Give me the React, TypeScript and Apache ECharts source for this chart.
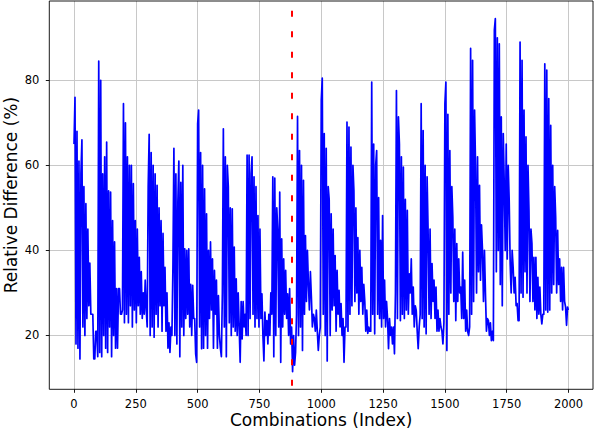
import React, { useEffect, useRef } from "react";
import * as echarts from "echarts";

// Sampled every 4 combinations; each block covers 100 combinations.
const sampleStep = 4;
const blockSize = 100;
const block00 = [65, 76, 18, 68, 17, 61, 14.5, 58, 66, 22, 55, 20, 51, 24, 45, 27, 37, 25, 25, 25, 14.5, 14.5, 21, 21, 15];
const block01 = [84.5, 16, 80, 15, 58, 20, 62, 17, 65.5, 16, 54, 22, 53.7, 15, 47, 20, 42, 17, 31, 17, 31, 31, 25, 25, 26];
const block02 = [74.5, 23, 70, 25, 62, 23, 60, 27, 60, 22, 55.7, 26, 47, 23, 45, 27, 38.4, 25, 35, 24, 30, 25, 33, 26, 22];
const block03 = [55, 67.3, 20, 63, 22, 60, 19.6, 58, 25, 55.3, 22, 50, 27, 47, 21, 44, 27, 36, 21, 30, 17, 23, 16, 22, 20];
const block04 = [36, 64, 20, 58, 18, 51.4, 61, 15, 56, 22, 60, 20, 40.4, 24, 40, 25, 40.4, 22, 32, 20, 31.8, 24, 24, 15.7, 13.7];
const block05 = [69.8, 73, 22, 63, 16.9, 60, 17, 54.5, 20, 48.6, 17, 40, 24, 42, 26, 38, 17, 35.3, 25, 33, 17, 29.4, 20, 17, 15];
const block06 = [30, 68.6, 22, 62, 15, 60, 55, 23, 50, 20, 49.8, 22, 40.8, 21, 33.3, 20, 30, 22, 13.7, 28, 19.2, 28, 22, 25, 20];
const block07 = [62.4, 20, 62.4, 24, 58, 62, 25, 57.3, 22, 55, 24, 48.2, 22, 45, 24, 29.8, 20, 14, 25.5, 20, 23.5, 18, 25, 20, 30];
const block08 = [25, 57.3, 15, 57, 20, 50, 45, 22, 53.7, 13.7, 42.7, 22, 38, 25, 35.3, 24, 29.8, 20, 31, 18, 22, 11.5, 20, 13, 16];
const block09 = [25, 71.5, 20, 63.5, 22, 60, 16.5, 56.5, 25, 43.5, 28, 40, 32.2, 26, 35, 29, 22, 25, 24, 21, 26, 21, 16.5, 20, 22];
const block10 = [75.3, 80.5, 25, 67.5, 20, 64, 14, 55, 52, 20, 48.6, 26, 45, 27, 38.8, 21, 35.3, 25, 30.6, 22, 27.5, 20, 24, 13.7, 22];
const block11 = [22, 70.2, 21, 69, 25, 64.3, 27, 60, 54, 28, 50, 30, 43, 25, 40, 28, 36, 25, 32, 28, 21, 26, 20.5, 22, 21];
const block12 = [21, 79.6, 25, 65, 20.4, 60, 63.5, 25, 52.4, 24, 42.4, 22, 48.2, 24, 33, 22, 28, 24, 16.9, 24, 20, 22, 18, 22, 15.7];
const block13 = [30, 77.6, 24, 71.4, 65, 23.5, 62, 25, 59.6, 24, 52, 26, 49.4, 25, 34.5, 30, 38, 25, 31.4, 22, 27, 25.9, 21, 16.9, 22];
const block14 = [25, 74.5, 24, 68.2, 22, 60, 20.4, 57.3, 44.7, 25, 45, 24, 36.9, 28, 33, 24, 31.4, 21, 26, 21, 24, 22, 21, 18, 23];
const block15 = [74.5, 79.6, 16.5, 72, 25, 63.5, 30, 55, 47.8, 28, 45, 23.5, 41.6, 28, 38, 30, 31.4, 24, 39.6, 24, 33, 21, 26, 21, 20];
const block16 = [22, 87.5, 25, 84.7, 28, 73, 59.6, 30, 62, 35, 55.3, 33, 46, 40, 28, 40, 29.8, 21, 24, 23.5, 20, 23, 18.8, 21, 18.8];
const block17 = [91.8, 94.5, 35, 90, 40, 88.6, 32, 71.4, 27, 67.5, 55.7, 40, 65, 38, 60, 51.8, 36.9, 30, 40, 36, 30, 33.7, 27, 27.5, 23.5];
const block18 = [23.5, 89, 30, 84.7, 29, 73, 35, 66.7, 30, 60, 49.4, 28, 45, 41.6, 28, 38.4, 26, 38.4, 24, 33.7, 25, 31.4, 25, 22.7, 25];
const block19 = [25, 83.9, 26, 82.4, 25.5, 75.7, 26, 69.4, 30, 60, 32, 55, 47.8, 30, 44.7, 32, 38, 28, 36, 26, 36, 28, 26.7, 22.4, 26.7];
const lastIndex = 1999;
const lastValue = 26;

const thresholdIndex = 882;

const xTickLabels = ["0", "250", "500", "750", "1000", "1250", "1500", "1750", "2000"];
const yTickLabels = ["20", "40", "60", "80"];

const xLabel = "Combinations (Index)";
const yLabel = "Relative Difference (%)";

const blocks = [
  block00, block01, block02, block03, block04, block05, block06, block07, block08, block09,
  block10, block11, block12, block13, block14, block15, block16, block17, block18, block19,
];

export default function App() {
  const ref = useRef<HTMLDivElement>(null);

  useEffect(() => {
    document.body.style.margin = "0";
    const el = ref.current!;
    const chart = echarts.init(el, null, { renderer: "svg" });

    const data: [number, number][] = [];
    blocks.forEach((blk, bi) => {
      blk.forEach((v, k) => data.push([bi * blockSize + k * sampleStep, v]));
    });
    data.push([lastIndex, lastValue]);

    const vals = data.map((d) => d[1]);
    const vMin = Math.min(...vals);
    const vMax = Math.max(...vals);
    const yMin = vMin - 0.05 * (vMax - vMin);
    const yMax = vMax + 0.05 * (vMax - vMin);
    const xMin = -0.05 * lastIndex;
    const xMax = lastIndex * 1.05;

    const W = 594;
    const H = 434;
    const gLeft = 49.3;
    const gRight = 1;
    const gTop = 1;
    const gBottom = 44.7;
    const pw = W - gLeft - gRight;
    const ph = H - gTop - gBottom;
    const xPx = (v: number) => gLeft + ((v - xMin) / (xMax - xMin)) * pw;
    const yPx = (v: number) => gTop + ((yMax - v) / (yMax - yMin)) * ph;

    const xFirst = Number(xTickLabels[0]);
    const xLast = Number(xTickLabels[xTickLabels.length - 1]);
    const xStep = Number(xTickLabels[1]) - xFirst;
    const yFirst = Number(yTickLabels[0]);
    const yLast = Number(yTickLabels[yTickLabels.length - 1]);
    const yStep = Number(yTickLabels[1]) - yFirst;

    const font = "DejaVu Sans";
    const gridColor = "#c8c8c8";
    const tickStyle = { show: true, inside: false, length: 3.5, lineStyle: { color: "#000", width: 0.9 } };
    const noBounds = { outerBoundsMode: "none", containLabel: false };

    const option: any = {
      animation: false,
      backgroundColor: "#fff",
      textStyle: { fontFamily: font },
      grid: [
        { ...noBounds, left: gLeft, right: gRight, top: gTop, bottom: gBottom, show: true, borderColor: "#000", borderWidth: 0.9, backgroundColor: "transparent", z: 3 },
        { ...noBounds, left: xPx(xFirst), right: W - xPx(xLast), top: gTop, bottom: gBottom },
        { ...noBounds, left: gLeft, right: gRight, top: yPx(yLast), bottom: H - yPx(yFirst) },
      ],
      xAxis: [
        {
          gridIndex: 0, type: "value", min: xMin, max: xMax,
          axisLine: { show: false }, axisTick: { show: false }, axisLabel: { show: false }, splitLine: { show: false },
          name: xLabel, nameLocation: "middle", nameGap: 22,
          nameTextStyle: { fontFamily: font, fontSize: 17, color: "#000" },
        },
        {
          gridIndex: 1, type: "value", min: xFirst, max: xLast, interval: xStep,
          axisLine: { show: false }, axisTick: tickStyle,
          axisLabel: {
            show: true, fontFamily: font, fontSize: 11.5, color: "#000", margin: 9,
            formatter: (v: number) => xTickLabels[Math.round((v - xFirst) / xStep)] ?? "",
          },
          splitLine: { show: true, lineStyle: { color: gridColor, width: 1 } },
        },
        { gridIndex: 2, type: "value", show: false },
      ],
      yAxis: [
        {
          gridIndex: 0, type: "value", min: yMin, max: yMax,
          axisLine: { show: false }, axisTick: { show: false }, axisLabel: { show: false }, splitLine: { show: false },
          name: yLabel, nameLocation: "middle", nameGap: 30,
          nameTextStyle: { fontFamily: font, fontSize: 17, color: "#000" },
        },
        { gridIndex: 1, type: "value", show: false },
        {
          gridIndex: 2, type: "value", min: yFirst, max: yLast, interval: yStep,
          axisLine: { show: false }, axisTick: tickStyle,
          axisLabel: {
            show: true, fontFamily: font, fontSize: 11.5, color: "#000", margin: 10,
            formatter: (v: number) => yTickLabels[Math.round((v - yFirst) / yStep)] ?? "",
          },
          splitLine: { show: true, lineStyle: { color: gridColor, width: 1 } },
        },
      ],
      series: [
        {
          type: "line",
          xAxisIndex: 0,
          yAxisIndex: 0,
          data,
          showSymbol: false,
          symbol: "none",
          clip: false,
          lineStyle: { color: "#0000ff", width: 1.7, join: "round" },
          z: 2,
          markLine: {
            silent: true,
            symbol: ["none", "none"],
            label: { show: false },
            lineStyle: { color: "#ff0000", width: 2, type: [6, 14.5], dashOffset: 16.9 },
            data: [{ xAxis: thresholdIndex }],
            z: 4,
          },
        },
      ],
    };

    chart.setOption(option);
    return () => chart.dispose();
  }, []);

  return <div ref={ref} style={{ width: 594, height: 434 }} />;
}
